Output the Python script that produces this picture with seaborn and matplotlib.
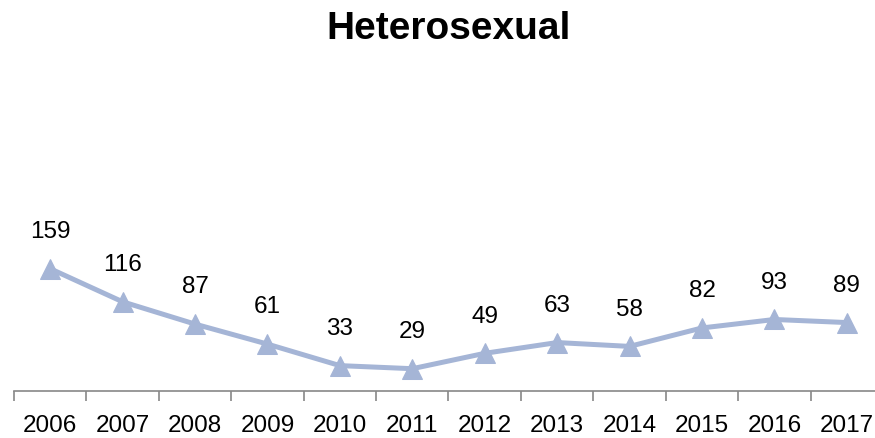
import matplotlib
matplotlib.use("Agg")
import matplotlib.pyplot as plt
import seaborn as sns
import pandas as pd
import numpy as np

years = ["2006", "2007", "2008", "2009", "2010", "2011", "2012", "2013", "2014", "2015", "2016", "2017"]
values = [159, 116, 87, 61, 33, 29, 49, 63, 58, 82, 93, 89]
title = "Heterosexual"

sns.set_theme(style="white")
plt.rcParams['font.family'] = ['Liberation Sans', 'DejaVu Sans']

df = pd.DataFrame({"year": years, "value": values})
df["pos"] = np.arange(len(years))

fig = plt.figure(figsize=(8.75, 4.38), dpi=100)
ax = fig.add_axes([14/875, 47/438, 869/875, 311/438])

color = "#A5B5D6"
sns.lineplot(data=df, x="pos", y="value", ax=ax, color=color, linewidth=3.6,
             marker="^", markersize=14, markeredgecolor=color, markerfacecolor=color)

for p, v in zip(df["pos"], df["value"]):
    ax.annotate(str(v), (p, v), xytext=(0, 26.5), textcoords="offset points",
                ha="center", va="center", fontsize=17.5, color="black")

ax.set_xlim(-0.5, len(years) - 0.5)
ax.set_ylim(0, 311 / 0.769)
ax.set_xticks(df["pos"])
ax.set_xticklabels(years, fontsize=17.5, color="black")
ax.set_xticks(np.arange(len(years) + 1) - 0.5, minor=True)
ax.tick_params(axis="x", which="major", length=0, pad=17)
ax.tick_params(axis="x", which="minor", length=7, width=1.2, color="#888888", direction="out", bottom=True)
ax.set_yticks([])
ax.set_xlabel("")
ax.set_ylabel("")
for s in ["top", "left", "right"]:
    ax.spines[s].set_visible(False)
ax.spines["bottom"].set_color("#888888")
ax.spines["bottom"].set_linewidth(1.2)

fig.text(449/875, 1 - 29/438, title, ha="center", va="center", fontsize=28,
         fontweight="bold", color="black")

fig.savefig("out.png", dpi=100)
